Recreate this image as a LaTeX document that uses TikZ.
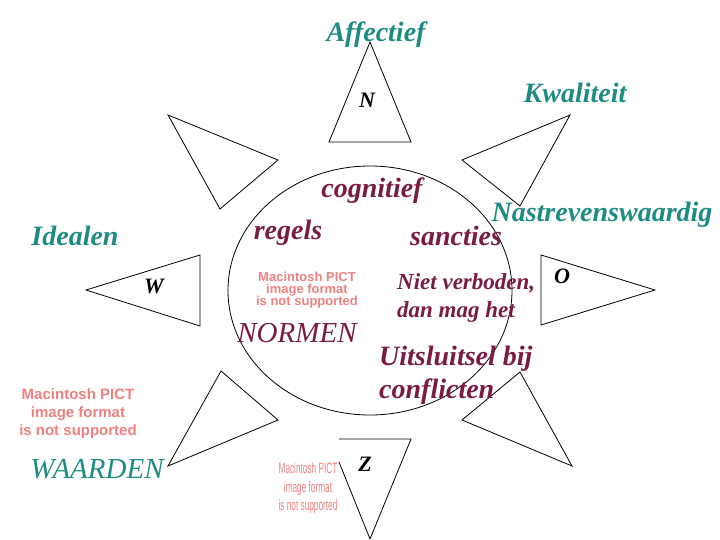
\documentclass[tikz,border=0pt]{standalone}
\usepackage{fontspec}
\setmainfont{Liberation Serif}
\newfontfamily\pictfont{Liberation Sans}
\definecolor{tealc}{RGB}{30,140,130}
\definecolor{maroonc}{RGB}{122,28,66}
\definecolor{pictc}{RGB}{238,128,128}
\tikzset{
  tri/.style={draw=black,line width=0.8pt,line join=miter},
  lbl/.style={inner sep=0pt,anchor=base,font=\fontsize{28}{28}\selectfont\bfseries\itshape},
  tealtxt/.style={lbl,text=tealc},
  marotxt/.style={lbl,text=maroonc},
  bigit/.style={inner sep=0pt,anchor=base,font=\fontsize{29}{29}\selectfont\itshape},
  letter/.style={inner sep=0pt,anchor=base,font=\fontsize{22}{22}\selectfont\bfseries\itshape,text=black},
  pictA/.style={inner sep=0pt,anchor=base,text=pictc,font=\pictfont\bfseries\fontsize{13}{13}\selectfont},
  pictB/.style={inner sep=0pt,anchor=base,text=pictc,font=\pictfont\bfseries\fontsize{15}{15}\selectfont},
  pictC/.style={inner sep=0pt,anchor=base,text=pictc,xscale=0.55,font=\pictfont\fontsize{15}{15}\selectfont}
}
\begin{document}
\begin{tikzpicture}[x=1pt,y=-1pt]
\useasboundingbox (0,0) rectangle (720,540);
% central ellipse
\draw[tri] (370,290.5) ellipse [x radius=142, y radius=124.5];
% triangles
\draw[tri] (370,42) -- (411,142) -- (329,142) -- cycle;           % N
\draw[tri] (168,115) -- (278,160) -- (220,209) -- cycle;          % top-left
\draw[tri] (570,115) -- (462,160) -- (520,206) -- cycle;          % top-right
\draw[tri] (86,290) -- (200,255) -- (200,326) -- cycle;           % W
\draw[tri] (541,255) -- (655,290) -- (541,325) -- cycle;          % O
\draw[tri] (221,371) -- (278,420) -- (168,466) -- cycle;          % bottom-left
\draw[tri] (520,372) -- (572,466) -- (462,420) -- cycle;          % bottom-right
\draw[tri] (339,462) -- (370,539) -- (411,439) -- (339,439);      % Z
% teal labels
\node[tealtxt] (affectief) at (376,42) {Affectief};
\node[tealtxt] (kwaliteit) at (575,103) {Kwaliteit};
\node[tealtxt] (nastreven) at (602,222) {Nastrevenswaardig};
\node[tealtxt] (idealen) at (75,245) {Idealen};
\node[bigit,text=tealc] (waarden) at (97,478) {WAARDEN};
% maroon labels
\node[marotxt] (cognitief) at (372,197) {cognitief};
\node[marotxt] (regels) at (288,240) {regels};
\node[marotxt] (sancties) at (456,245) {sancties};
\node[marotxt,anchor=base west,font=\fontsize{23}{23}\selectfont\bfseries\itshape] (niet1) at (397,289) {Niet verboden,};
\node[marotxt,anchor=base west,font=\fontsize{23}{23}\selectfont\bfseries\itshape] (niet2) at (397,317) {dan mag het};
\node[marotxt,anchor=base west] (uit1) at (379,365) {Uitsluitsel bij};
\node[marotxt,anchor=base west] (uit2) at (379,398) {conflicten};
\node[bigit,text=maroonc] (normen) at (297,342) {NORMEN};
% letters
\node[letter] (n) at (367,108) {N};
\node[letter] (w) at (154,293) {W};
\node[letter] (o) at (562,283) {O};
\node[letter] (z) at (365,471) {Z};
% picture placeholders
\node[pictA] (pa1) at (307,281) {Macintosh PICT};
\node[pictA] (pa2) at (307,293) {image format};
\node[pictA] (pa3) at (307,305) {is not supported};
\node[pictB] (pb1) at (78,399) {Macintosh PICT};
\node[pictB] (pb2) at (78,417) {image format};
\node[pictB] (pb3) at (78,435) {is not supported};
\node[pictC] (pc1) at (308,473) {Macintosh PICT};
\node[pictC] (pc2) at (308,492) {image format};
\node[pictC] (pc3) at (308,510) {is not supported};
\end{tikzpicture}
\end{document}
